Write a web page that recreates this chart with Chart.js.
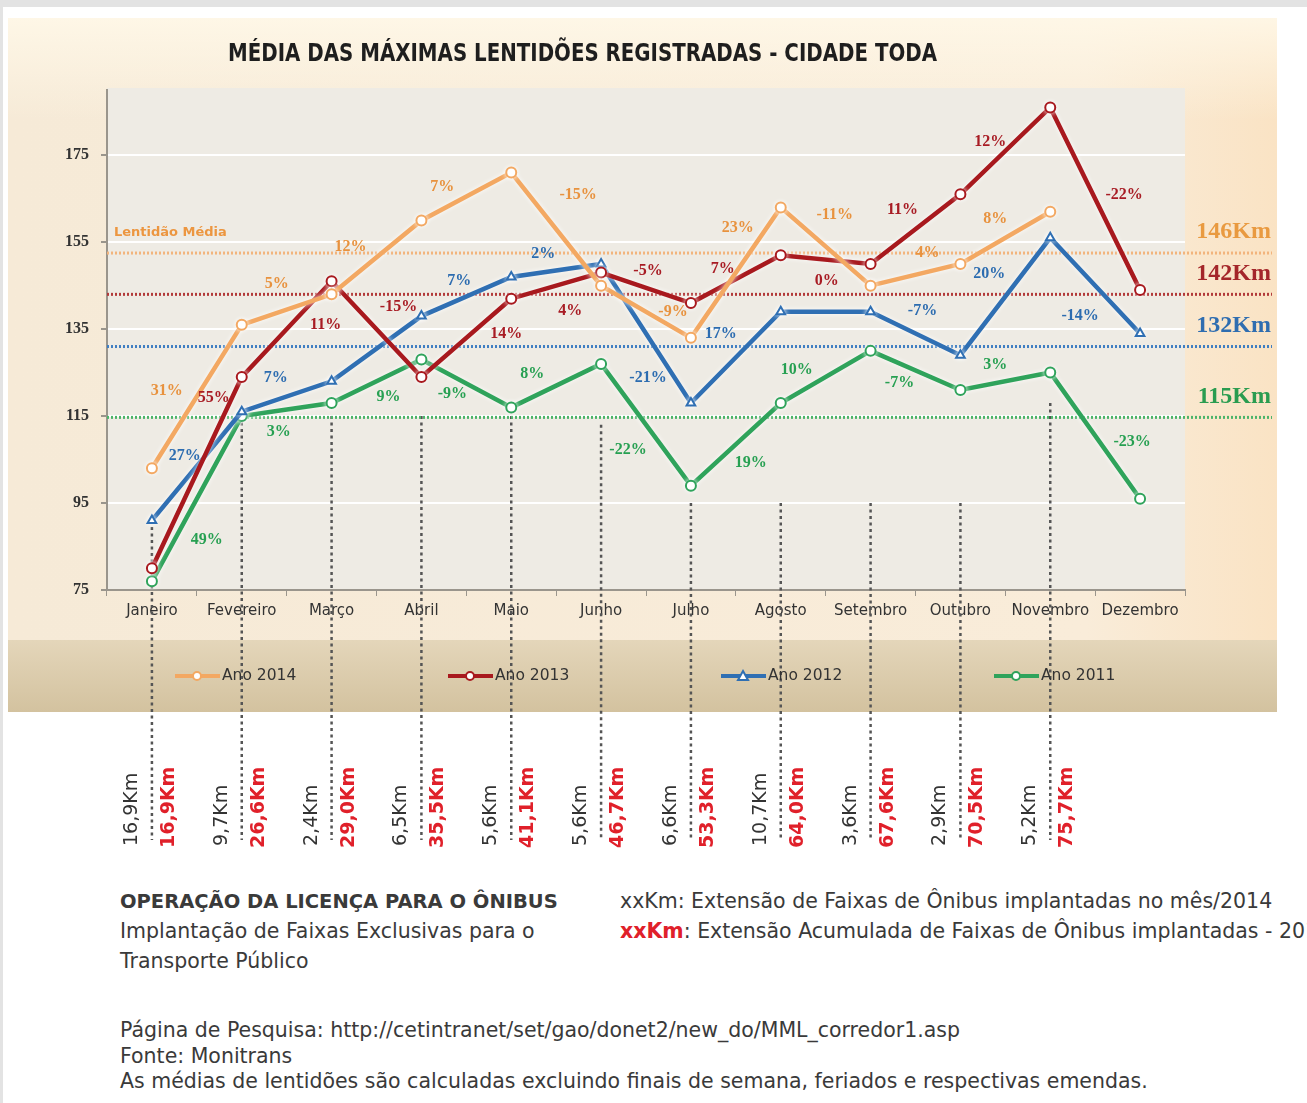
<!DOCTYPE html>
<html lang="pt-BR">
<head>
<meta charset="utf-8">
<title>Média das máximas lentidões registradas - cidade toda</title>
<script src="https://cdn.jsdelivr.net/npm/chart.js@4.4.1/dist/chart.umd.min.js"></script>
<style>
  html, body { margin: 0; padding: 0; background: #fff; overflow: hidden; }
  body { width: 1307px; height: 1103px; position: relative;
         font-family: 'DejaVu Sans', sans-serif; color: #3a3a3a; }
  #frameTop { position: absolute; left: 0; top: 0; width: 1307px; height: 7px; background: #e3e3e3; }
  #frameLeft { position: absolute; left: 0; top: 0; width: 3px; height: 1103px; background: #e3e3e3; }
  #chartBox { position: absolute; left: 0; top: 0; width: 1307px; height: 870px; }
  .notes { position: absolute; font-size: 20.5px; white-space: nowrap; }
  .notes div { height: 30px; line-height: 30px; }
  .notes.src div { height: 25.5px; line-height: 25.5px; }
  .notes b { font-size: 19.5px; }
  .red { color: #e0202a; font-weight: bold; }
</style>
</head>
<body>
<div id="frameTop"></div>
<div id="frameLeft"></div>
<div id="chartBox"><canvas id="lentChart" width="1307" height="870"></canvas></div>

<div class="notes" style="left:120px; top:886px;">
  <div><b>OPERAÇÃO DA LICENÇA PARA O ÔNIBUS</b></div>
  <div>Implantação de Faixas Exclusivas para o</div>
  <div>Transporte Público</div>
</div>
<div class="notes" style="left:620px; top:886px;">
  <div>xxKm: Extensão de Faixas de Ônibus implantadas no mês/2014</div>
  <div><span class="red">xxKm</span>: Extensão Acumulada de Faixas de Ônibus implantadas - 2014</div>
</div>
<div class="notes src" style="left:120px; top:1018px;">
  <div>Página de Pesquisa: http://cetintranet/set/gao/donet2/new_do/MML_corredor1.asp</div>
  <div>Fonte: Monitrans</div>
  <div>As médias de lentidões são calculadas excluindo finais de semana, feriados e respectivas emendas.</div>
</div>

<script>
// dados
const months = ['Janeiro', 'Fevereiro', 'Março', 'Abril', 'Maio', 'Junho', 'Julho',
                'Agosto', 'Setembro', 'Outubro', 'Novembro', 'Dezembro'];
const ano2014 = [103, 136, 143, 160, 171, 145, 133, 163, 145, 150, 162, null];
const ano2013 = [80, 124, 146, 124, 142, 148, 141, 152, 150, 166, 186, 144];
const ano2012 = [91, 116, 123, 138, 147, 150, 118, 139, 139, 129, 156, 134];
const ano2011 = [77, 115, 118, 128, 117, 127, 99, 118, 130, 121, 125, 96];

// variação em relação ao mês anterior
const pct2014 = [null, '31%', '5%', '12%', '7%', '-15%', '-9%', '23%', '-11%', '4%', '8%', null];
const pct2013 = [null, '55%', '11%', '-15%', '14%', '4%', '-5%', '7%', '0%', '11%', '12%', '-22%'];
const pct2012 = [null, '27%', '7%', null, '7%', '2%', '-21%', '17%', null, '-7%', '20%', '-14%'];
const pct2011 = [null, '49%', '3%', '9%', '-9%', '8%', '-22%', '19%', '10%', '-7%', '3%', '-23%'];

// lentidão média de cada ano (linha pontilhada) e o rótulo escrito
const avgLevels = [152.5, 143, 131, 114.7];
const avgLabels = ['146Km', '142Km', '132Km', '115Km'];

// faixas de ônibus: extensão no mês e acumulada
const kmMonth = ['16,9Km', '9,7Km', '2,4Km', '6,5Km', '5,6Km', '5,6Km', '6,6Km', '10,7Km', '3,6Km', '2,9Km', '5,2Km'];
const kmTotal = ['16,9Km', '26,6Km', '29,0Km', '35,5Km', '41,1Km', '46,7Km', '53,3Km', '64,0Km', '67,6Km', '70,5Km', '75,7Km'];
const dropFrom = [91, 115, 115, 115, 115, 113, 95, 95, 95, 95, 118];

const yTicks = [75, 95, 115, 135, 155, 175];

// ---- estilo ----
const lineColors = ['#f3a862', '#a8191e', '#2f6fb3', '#2fa35b'];
const pctColors = ['#e8923e', '#a81c24', '#2c6cb0', '#27a052'];
const avgColors = ['#f2b47c', '#b23a3a', '#3f7ec2', '#4cb46a'];
const avgTextColors = ['#e99a40', '#a4262a', '#2f6db0', '#2a9c50'];
const pctOffsets = [
    [null, [-30, -6], [-10, -26], [-26, -11], [-24, -10], [22, -34], [27, 0], [2, -45], [9, -32], [12, -22], [-10, -19], null],
    [null, [17, -75], [39, -4], [22, -22], [40, -4], [14, 25], [2, -17], [-13, -10], [1, 21], [-13, -19], [-15, -9], [29, -4]],
    [null, [-12, -10], [-11, -19], null, [-7, -16], [-13, -17], [2, 44], [-15, -24], null, [7, -23], [-16, -23], [-15, 30]],
    [null, [10, 41], [-8, 22], [12, 16], [-14, 10], [-24, -12], [-18, 25], [15, 19], [-29, -7], [-16, 12], [-10, -16], [37, 6]]
];
const pctLabels = [pct2014, pct2013, pct2012, pct2011];

const serif = "'Liberation Serif', 'DejaVu Serif', serif";
const sans = "'DejaVu Sans', sans-serif";

const panelPlugin = {
    id: 'panel',
    beforeDraw(chart) {
        const { ctx, chartArea: a } = chart;
        ctx.save();
        // fundo do quadro
        const g = ctx.createLinearGradient(8, 0, 1277, 0);
        g.addColorStop(0, '#f6ead7');
        g.addColorStop(0.85, '#f9ecd9');
        g.addColorStop(1, '#fae3c4');
        ctx.fillStyle = g;
        ctx.fillRect(8, 18, 1269, 694);
        const top = ctx.createLinearGradient(0, 18, 0, 120);
        top.addColorStop(0, 'rgba(255,248,232,0.9)');
        top.addColorStop(1, 'rgba(255,248,232,0)');
        ctx.fillStyle = top;
        ctx.fillRect(8, 18, 1269, 102);
        // faixa da legenda
        const b = ctx.createLinearGradient(0, 640, 0, 712);
        b.addColorStop(0, '#e4d6ba');
        b.addColorStop(1, '#d3c29f');
        ctx.fillStyle = b;
        ctx.fillRect(8, 640, 1269, 72);
        // área de plotagem
        ctx.fillStyle = '#eeebe4';
        ctx.fillRect(a.left, a.top - 2, a.right - a.left, a.bottom - a.top + 2);
        ctx.restore();
    },
    beforeDatasetsDraw(chart) {
        const { ctx, chartArea: a, scales: { x, y } } = chart;
        ctx.save();
        // linhas verticais até os rótulos das faixas
        ctx.strokeStyle = '#555';
        ctx.lineWidth = 2.5;
        ctx.setLineDash([3, 3.5]);
        dropFrom.forEach((v, i) => {
            const px = x.getPixelForValue(i);
            ctx.beginPath();
            ctx.moveTo(px, y.getPixelForValue(v));
            ctx.lineTo(px, 840);
            ctx.stroke();
        });
        // lentidão média
        ctx.lineWidth = 3;
        ctx.setLineDash([2, 2]);
        avgLevels.forEach((v, i) => {
            const py = y.getPixelForValue(v);
            ctx.strokeStyle = avgColors[i];
            ctx.beginPath();
            ctx.moveTo(a.left, py);
            ctx.lineTo(1272, py);
            ctx.stroke();
            ctx.fillStyle = avgTextColors[i];
            ctx.font = 'bold 24px ' + serif;
            ctx.textAlign = 'right';
            ctx.textBaseline = 'bottom';
            ctx.fillText(avgLabels[i], 1271, py - 9);
        });
        ctx.fillStyle = '#ec9640';
        ctx.font = 'bold 13px ' + sans;
        ctx.textAlign = 'left';
        ctx.textBaseline = 'middle';
        ctx.fillText('Lentidão Média', a.left + 7, y.getPixelForValue(avgLevels[0]) - 20);
        ctx.restore();
    },
    beforeDatasetDraw(chart) {
        chart.ctx.save();
        chart.ctx.shadowColor = 'rgba(255,255,255,0.9)';
        chart.ctx.shadowBlur = 5;
    },
    afterDatasetDraw(chart) {
        chart.ctx.restore();
    },
    afterDatasetsDraw(chart) {
        const { ctx } = chart;
        ctx.save();
        ctx.font = 'bold 16px ' + serif;
        ctx.textAlign = 'center';
        ctx.textBaseline = 'middle';
        pctLabels.forEach((labels, d) => {
            const pts = chart.getDatasetMeta(d).data;
            labels.forEach((txt, i) => {
                if (!txt) return;
                const off = pctOffsets[d][i];
                const mx = (pts[i - 1].x + pts[i].x) / 2;
                const my = (pts[i - 1].y + pts[i].y) / 2;
                ctx.fillStyle = pctColors[d];
                ctx.fillText(txt, mx + off[0], my + off[1]);
            });
        });
        ctx.restore();
    },
    afterDraw(chart) {
        const { ctx, chartArea: a, scales: { x } } = chart;
        ctx.save();
        // título (fonte estreita: comprime na horizontal)
        const title = 'MÉDIA DAS MÁXIMAS LENTIDÕES REGISTRADAS - CIDADE TODA';
        ctx.font = 'bold 24px ' + sans;
        const w = ctx.measureText(title).width;
        ctx.translate(228, 55);
        ctx.scale(709 / w, 1);
        ctx.fillStyle = '#1e1e1e';
        ctx.textAlign = 'left';
        ctx.textBaseline = 'middle';
        ctx.fillText(title, 0, 0);
        ctx.setTransform(1, 0, 0, 1, 0, 0);

        // legenda
        const names = chart.data.datasets.map(ds => ds.label);
        names.forEach((name, i) => {
            const lx = a.left + 68 + i * 273;
            const ly = 676;
            ctx.strokeStyle = lineColors[i];
            ctx.lineWidth = 4;
            ctx.beginPath();
            ctx.moveTo(lx, ly);
            ctx.lineTo(lx + 45, ly);
            ctx.stroke();
            ctx.fillStyle = '#fff';
            ctx.lineWidth = 2;
            ctx.beginPath();
            if (i === 2) {
                ctx.moveTo(lx + 22, ly - 5);
                ctx.lineTo(lx + 27, ly + 4);
                ctx.lineTo(lx + 17, ly + 4);
                ctx.closePath();
            } else {
                ctx.arc(lx + 22, ly, 4, 0, Math.PI * 2);
            }
            ctx.fill();
            ctx.stroke();
            ctx.fillStyle = '#333';
            ctx.font = '15.5px ' + sans;
            ctx.textAlign = 'left';
            ctx.textBaseline = 'middle';
            ctx.fillText(name, lx + 47, ly);
        });

        // extensão das faixas, texto vertical
        ctx.textBaseline = 'middle';
        ctx.textAlign = 'left';
        kmMonth.forEach((txt, i) => {
            const px = x.getPixelForValue(i);
            ctx.save();
            ctx.translate(px - 20, 846);
            ctx.rotate(-Math.PI / 2);
            ctx.font = '19px ' + sans;
            ctx.fillStyle = '#333';
            ctx.fillText(txt, 0, 0);
            ctx.restore();
            ctx.save();
            ctx.translate(px + 17, 848);
            ctx.rotate(-Math.PI / 2);
            ctx.font = 'bold 19px ' + sans;
            ctx.fillStyle = '#e0202a';
            ctx.fillText(kmTotal[i], 0, 0);
            ctx.restore();
        });
        ctx.restore();
    }
};

function series(label, data, i, style) {
    return {
        label: label,
        data: data,
        borderColor: lineColors[i],
        backgroundColor: '#ffffff',
        borderWidth: 4.5,
        pointStyle: style,
        pointRadius: 5,
        pointBorderWidth: 2,
        pointBackgroundColor: '#ffffff',
        pointBorderColor: lineColors[i],
        tension: 0,
        spanGaps: false
    };
}

new Chart(document.getElementById('lentChart'), {
    type: 'line',
    data: {
        labels: months,
        datasets: [
            series('Ano 2014', ano2014, 0, 'circle'),
            series('Ano 2013', ano2013, 1, 'circle'),
            series('Ano 2012', ano2012, 2, 'triangle'),
            series('Ano 2011', ano2011, 3, 'circle')
        ]
    },
    options: {
        responsive: false,
        animation: false,
        devicePixelRatio: 1,
        layout: { padding: { left: 47, right: 122, top: 90, bottom: 240 } },
        plugins: {
            legend: { display: false },
            title: { display: false },
            tooltip: { enabled: false }
        },
        scales: {
            x: {
                offset: true,
                grid: { offset: true, drawOnChartArea: false, tickLength: 6, tickColor: '#9a958c' },
                border: { color: '#9a958c', width: 2 },
                ticks: { color: '#333', font: { family: sans, size: 15 }, maxRotation: 0, autoSkip: false, padding: 6 },
                afterFit(scale) { scale.height = 40; }
            },
            y: {
                min: 75,
                max: 190,
                afterBuildTicks(scale) { scale.ticks = yTicks.map(v => ({ value: v })); },
                grid: { color: '#ffffff', lineWidth: 2, tickLength: 6, tickColor: '#9a958c' },
                border: { color: '#9a958c', width: 2 },
                ticks: { color: '#333', font: { family: serif, size: 16, weight: 'bold' }, padding: 12 },
                afterFit(scale) { scale.width = 60; }
            }
        }
    },
    plugins: [panelPlugin]
});
</script>
</body>
</html>
